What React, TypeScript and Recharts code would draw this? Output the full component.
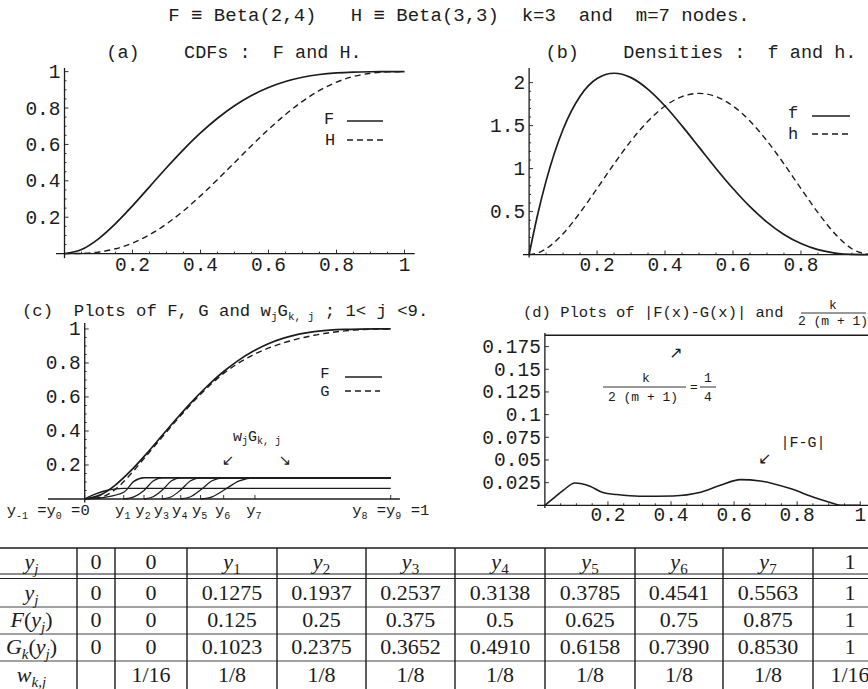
import React from 'react';
import { LineChart, Line, XAxis, YAxis, ReferenceLine } from 'recharts';

const MONO = '"Liberation Mono", "DejaVu Sans Mono", monospace';
const SERIF = '"Liberation Serif", "DejaVu Serif", serif';
const ARROW = '"DejaVu Sans", sans-serif';
const INK = '#1c1c1c';

// (a) CDFs F = Beta(2,4) and H = Beta(3,3)
const gridX = [0, 0.05, 0.1, 0.15, 0.2, 0.25, 0.3, 0.35, 0.4, 0.45, 0.5, 0.55, 0.6, 0.65, 0.7, 0.75, 0.8, 0.85, 0.9, 0.95, 1];
const cdfF = [0, 0.0226, 0.0815, 0.1648, 0.2627, 0.3672, 0.4718, 0.5716, 0.663, 0.7438, 0.8125, 0.8688, 0.913, 0.946, 0.9692, 0.9844, 0.9933, 0.9978, 0.9995, 1, 1];
const cdfH = [0, 0.0012, 0.0086, 0.0266, 0.0579, 0.1035, 0.1631, 0.2352, 0.3174, 0.4069, 0.5, 0.5931, 0.6826, 0.7648, 0.8369, 0.8965, 0.9421, 0.9734, 0.9914, 0.9988, 1];

// (b) densities f and h
const densX = [0, 0.025, 0.05, 0.1, 0.15, 0.2, 0.25, 0.3, 0.35, 0.4, 0.45, 0.5, 0.55, 0.6, 0.65, 0.7, 0.75, 0.8, 0.85, 0.9, 0.95, 1];
const densF = [0, 0.463, 0.857, 1.458, 1.842, 2.048, 2.109, 2.058, 1.922, 1.728, 1.497, 1.25, 1.002, 0.768, 0.557, 0.378, 0.234, 0.128, 0.057, 0.018, 0.002, 0];
const densH = [0, 0.018, 0.068, 0.243, 0.488, 0.768, 1.055, 1.323, 1.553, 1.728, 1.838, 1.875, 1.838, 1.728, 1.553, 1.323, 1.055, 0.768, 0.488, 0.243, 0.068, 0];

// (c) F, G and the weighted pieces w_j G_k,j
const approxGX = [0, 0.05, 0.1, 0.1275, 0.1937, 0.2537, 0.3138, 0.3785, 0.4541, 0.5563, 0.65, 0.75, 0.85, 0.95, 1];
const approxG = [0, 0.009, 0.057, 0.1023, 0.2375, 0.3652, 0.491, 0.6158, 0.739, 0.853, 0.918, 0.963, 0.9886, 0.9995, 1];
const wG1 = [[0, 0], [0.032, 0.027], [0.064, 0.047], [0.096, 0.0586], [0.1275, 0.0625], [1, 0.0625]];
const wG2 = [[0, 0], [0.064, 0.0099], [0.1275, 0.0398], [0.1606, 0.1037], [0.1937, 0.125], [1, 0.125]];
const wG3 = [[0.1275, 0], [0.1606, 0.0125], [0.1937, 0.05], [0.2237, 0.1063], [0.2537, 0.125], [1, 0.125]];
const wG4 = [[0.1937, 0], [0.2237, 0.0131], [0.2537, 0.0525], [0.2838, 0.1069], [0.3138, 0.125], [1, 0.125]];
const wG5 = [[0.2537, 0], [0.2838, 0.0134], [0.3138, 0.0535], [0.3462, 0.1071], [0.3785, 0.125], [1, 0.125]];
const wG6 = [[0.3138, 0], [0.3462, 0.0133], [0.3785, 0.0533], [0.4163, 0.1071], [0.4541, 0.125], [1, 0.125]];
const wG7 = [[0.3785, 0], [0.4163, 0.0128], [0.4541, 0.0513], [0.5052, 0.1066], [0.5563, 0.125], [1, 0.125]];
const nodeTicks = [0, 0.1275, 0.1937, 0.2537, 0.3138, 0.3785, 0.4541, 0.5563, 1];

// (d) |F - G| and the bound k / (2(m+1))
const diffX = [0, 0.03, 0.06, 0.095, 0.143, 0.184, 0.228, 0.3, 0.406, 0.49, 0.556, 0.62, 0.683, 0.778, 0.85, 0.905, 0.937, 1];
const diffFG = [0, 0.0085, 0.017, 0.0246, 0.021, 0.014, 0.0118, 0.0099, 0.0103, 0.014, 0.022, 0.0283, 0.0268, 0.0184, 0.0092, 0.003, 0, 0];
const boundX = [0, 1.06];
const boundY = [0.1875, 0.1875];

// ticks
const unitMajor = [0.2, 0.4, 0.6, 0.8, 1];
const unitMinor = [0.05, 0.1, 0.15, 0.25, 0.3, 0.35, 0.45, 0.5, 0.55, 0.65, 0.7, 0.75, 0.85, 0.9, 0.95];
const densYMajor = [0.5, 1, 1.5, 2];
const densYMinor = [0.1, 0.2, 0.3, 0.4, 0.6, 0.7, 0.8, 0.9, 1.1, 1.2, 1.3, 1.4, 1.6, 1.7, 1.8, 1.9];
const diffYMajor = [0.025, 0.05, 0.075, 0.1, 0.125, 0.15, 0.175];

// table
const headCells = ['0', '0', '1', '2', '3', '4', '5', '6', '7', '1'];
const yRow = ['0', '0', '0.1275', '0.1937', '0.2537', '0.3138', '0.3785', '0.4541', '0.5563', '1'];
const fRow = ['0', '0', '0.125', '0.25', '0.375', '0.5', '0.625', '0.75', '0.875', '1'];
const gRow = ['0', '0', '0.1023', '0.2375', '0.3652', '0.4910', '0.6158', '0.7390', '0.8530', '1'];
const wRow = ['', '1/16', '1/8', '1/8', '1/8', '1/8', '1/8', '1/8', '1/8', '1/16'];

const pts = (xs: number[], ys: number[]) => xs.map((x, i) => ({ x, y: ys[i] }));
const pairs = (p: number[][]) => p.map(([x, y]) => ({ x, y }));

const PAD = { l: 80, r: 45, t: 12, b: 40 };

type PanelProps = {
  box: { left: number; top: number; right: number; bottom: number };
  xDomain: [number, number];
  yDomain: [number, number];
  xTicks: number[];
  xMajor: number[];
  yTicks: number[];
  yMajor: number[];
  xGap: number;
  xLabel?: (v: number, x: number, y: number) => React.ReactNode;
  children: React.ReactNode;
};

function Panel({ box, xDomain, yDomain, xTicks, xMajor, yTicks, yMajor, xGap, xLabel, children }: PanelProps) {
  const pw = box.right - box.left;
  const ph = box.bottom - box.top;
  // pixel position of the x=0 and y=0 axes inside the chart svg
  const x0 = PAD.l + ((0 - xDomain[0]) / (xDomain[1] - xDomain[0])) * pw;
  const y0 = PAD.t + (yDomain[1] / (yDomain[1] - yDomain[0])) * ph;

  const xTick = (p: any) => {
    const v = p.payload.value;
    const major = xMajor.includes(v);
    return (
      <g>
        <line x1={p.x} x2={p.x} y1={y0} y2={y0 - (major ? 4 : 2)} stroke={INK} strokeWidth={0.9} />
        {major &&
          (xLabel ? xLabel(v, p.x, y0 + xGap) : (
            <text x={p.x} y={y0 + xGap} textAnchor="middle" fontFamily={MONO} fontSize={19.5} fill={INK}>
              {String(v)}
            </text>
          ))}
      </g>
    );
  };
  const yTick = (p: any) => {
    const v = p.payload.value;
    const major = yMajor.includes(v);
    return (
      <g>
        <line x1={x0} x2={x0 + (major ? 4 : 2)} y1={p.y} y2={p.y} stroke={INK} strokeWidth={0.9} />
        {major && (
          <text x={x0 - 4} y={p.y + 6.5} textAnchor="end" fontFamily={MONO} fontSize={19.5} fill={INK}>
            {String(v)}
          </text>
        )}
      </g>
    );
  };

  return (
    <div style={{ position: 'absolute', left: box.left - PAD.l, top: box.top - PAD.t }}>
      <LineChart
        width={pw + PAD.l + PAD.r}
        height={ph + PAD.t + PAD.b}
        margin={{ top: PAD.t, right: PAD.r, bottom: 0, left: 0 }}
      >
        <XAxis type="number" dataKey="x" domain={xDomain} ticks={xTicks} interval={0} height={PAD.b}
          axisLine={false} tickLine={false} tick={xTick} allowDataOverflow />
        <YAxis type="number" dataKey="y" domain={yDomain} ticks={yTicks} interval={0} width={PAD.l}
          axisLine={false} tickLine={false} tick={yTick} allowDataOverflow />
        <ReferenceLine x={0} stroke={INK} strokeWidth={1.3} />
        <ReferenceLine y={0} stroke={INK} strokeWidth={1.3} />
        {children}
      </LineChart>
    </div>
  );
}

const solid = { type: 'monotone' as const, dataKey: 'y', dot: false, activeDot: false, isAnimationActive: false, stroke: INK };

const Sub = ({ t, size, d = 4 }: { t: string; size: number; d?: number }) => (
  <tspan dy={d} fontSize={size}>{t}</tspan>
);

function nodeLabel(v: number, x: number, y: number) {
  const fs = 15.5;
  const ss = 10;
  if (v === 0) {
    return (
      <text x={x + 5} y={y} textAnchor="end" fontFamily={MONO} fontSize={fs} fill={INK} xmlSpace="preserve" style={{ whiteSpace: 'pre' }}>
        y<Sub t="-1" size={ss} /><tspan dy={-4}> =y</tspan><Sub t="0" size={ss} /><tspan dy={-4}> =0</tspan>
      </text>
    );
  }
  if (v === 1) {
    return (
      <text x={x} y={y} textAnchor="middle" fontFamily={MONO} fontSize={fs} fill={INK} xmlSpace="preserve" style={{ whiteSpace: 'pre' }}>
        y<Sub t="8" size={ss} /><tspan dy={-4}> =y</tspan><Sub t="9" size={ss} /><tspan dy={-4}> =1</tspan>
      </text>
    );
  }
  const j = nodeTicks.indexOf(v);
  return (
    <text x={x - 1} y={y} textAnchor="middle" fontFamily={MONO} fontSize={fs} fill={INK}>
      y<Sub t={String(j)} size={ss} />
    </text>
  );
}

function Overlay() {
  const mono = { fontFamily: MONO, fill: INK } as const;
  const pre = { whiteSpace: 'pre' } as React.CSSProperties;
  const edges = [-14, 77, 115, 187, 277, 366, 455, 545, 635, 723, 813, 887];
  const centers = edges.slice(0, -1).map((e, i) => (e + edges[i + 1]) / 2);
  const tfs = 22;
  const sfs = 15;
  const rowBase = [600, 627, 654, 682];
  const rows = [yRow, fRow, gRow, wRow];
  const rowLabels = [
    <>y<tspan dy={5} fontSize={sfs}>j</tspan></>,
    <>F<tspan fontStyle="normal">(</tspan>y<tspan dy={5} fontSize={sfs}>j</tspan><tspan dy={-5} fontStyle="normal">)</tspan></>,
    <>G<tspan dy={5} fontSize={sfs}>k</tspan><tspan dy={-5} fontStyle="normal">(</tspan>y<tspan dy={5} fontSize={sfs}>j</tspan><tspan dy={-5} fontStyle="normal">)</tspan></>,
    <>w<tspan dy={5} fontSize={sfs}>k,j</tspan></>,
  ];
  return (
    <svg width={868} height={689} style={{ position: 'absolute', left: 0, top: 0, pointerEvents: 'none' }}>
      <text x={459} y={21} textAnchor="middle" fontSize={19} {...mono} xmlSpace="preserve" style={pre}>
        {'F ≡ Beta(2,4)   H ≡ Beta(3,3)  k=3  and  m=7 nodes.'}
      </text>
      <text x={234} y={58} textAnchor="middle" fontSize={18.5} {...mono} xmlSpace="preserve" style={pre}>
        {'(a)    CDFs :  F and H.'}
      </text>
      <text x={701} y={58} textAnchor="middle" fontSize={18.5} {...mono} xmlSpace="preserve" style={pre}>
        {'(b)    Densities :  f and h.'}
      </text>

      {/* legends (a) and (b) */}
      <text x={329} y={124} textAnchor="middle" fontSize={17} {...mono}>F</text>
      <line x1={347} x2={383} y1={121} y2={121} stroke={INK} strokeWidth={1.5} />
      <text x={330} y={145} textAnchor="middle" fontSize={17} {...mono}>H</text>
      <line x1={347} x2={383} y1={140} y2={140} stroke={INK} strokeWidth={1.3} strokeDasharray="6 4" />
      <text x={793} y={118} textAnchor="middle" fontSize={17} {...mono}>f</text>
      <line x1={812} x2={850} y1={116} y2={116} stroke={INK} strokeWidth={1.5} />
      <text x={793} y={139} textAnchor="middle" fontSize={17} {...mono}>h</text>
      <line x1={812} x2={850} y1={134} y2={134} stroke={INK} strokeWidth={1.3} strokeDasharray="6 4" />

      {/* (c) */}
      <text x={22} y={316} fontSize={17.3} {...mono} xmlSpace="preserve" style={pre}>
        {'(c)  Plots of F, G and w'}<tspan dy={4} fontSize={11}>j</tspan>
        <tspan dy={-4}>G</tspan><tspan dy={4} fontSize={11}>k, j</tspan>
        <tspan dy={-4}>{' ; 1< j <9.'}</tspan>
      </text>
      <text x={325} y={378} textAnchor="middle" fontSize={15.5} {...mono}>F</text>
      <line x1={345} x2={382} y1={377} y2={377} stroke={INK} strokeWidth={1.5} />
      <text x={325} y={396} textAnchor="middle" fontSize={15.5} {...mono}>G</text>
      <line x1={345} x2={380} y1={391} y2={391} stroke={INK} strokeWidth={1.3} strokeDasharray="6 4" />
      <text x={257} y={441} textAnchor="middle" fontSize={15} {...mono}>
        w<tspan dy={3} fontSize={10}>j</tspan><tspan dy={-3}>G</tspan><tspan dy={3} fontSize={10}>k, j</tspan>
      </text>
      <text x={228} y={465} textAnchor="middle" fontSize={15} fontFamily={ARROW} fill={INK}>↙</text>
      <text x={285} y={465} textAnchor="middle" fontSize={15} fontFamily={ARROW} fill={INK}>↘</text>

      {/* (d) */}
      <text x={523} y={317} fontSize={15.5} {...mono} xmlSpace="preserve" style={pre}>
        {'(d) Plots of |F(x)-G(x)| and'}
      </text>
      <text x={833} y={309} textAnchor="middle" fontSize={13} {...mono}>k</text>
      <line x1={801} x2={866} y1={313} y2={313} stroke={INK} strokeWidth={0.9} />
      <text x={833} y={325} textAnchor="middle" fontSize={13} {...mono} xmlSpace="preserve" style={pre}>{'2 (m + 1)'}</text>

      <text x={676} y={358} textAnchor="middle" fontSize={16} fontFamily={ARROW} fill={INK}>↗</text>
      <text x={646} y={382} textAnchor="middle" fontSize={13} {...mono}>k</text>
      <line x1={603} x2={686} y1={387} y2={387} stroke={INK} strokeWidth={0.9} />
      <text x={643} y={401} textAnchor="middle" fontSize={13} {...mono} xmlSpace="preserve" style={pre}>{'2 (m + 1)'}</text>
      <text x={694} y={391} textAnchor="middle" fontSize={13} {...mono}>=</text>
      <text x={708} y={382} textAnchor="middle" fontSize={13} {...mono}>1</text>
      <line x1={700} x2={716} y1={387} y2={387} stroke={INK} strokeWidth={0.9} />
      <text x={708} y={401} textAnchor="middle" fontSize={13} {...mono}>4</text>
      <text x={803} y={447} textAnchor="middle" fontSize={15} {...mono}>|F-G|</text>
      <text x={765} y={464} textAnchor="middle" fontSize={16} fontFamily={ARROW} fill={INK}>↙</text>

      {/* table */}
      <line x1={0} x2={868} y1={548} y2={548} stroke={INK} strokeWidth={1.6} />
      <line x1={0} x2={868} y1={574} y2={574} stroke={INK} strokeWidth={1.2} />
      <line x1={0} x2={868} y1={578.5} y2={578.5} stroke={INK} strokeWidth={1.2} />
      {[607, 634, 661].map((y) => (
        <line key={y} x1={0} x2={868} y1={y} y2={y} stroke="#444" strokeWidth={1} />
      ))}
      {edges.slice(1, -1).map((x) => (
        <line key={x} x1={x} x2={x} y1={548} y2={689} stroke={INK} strokeWidth={1.4} />
      ))}
      <text x={centers[0]} y={569} textAnchor="middle" fontFamily={SERIF} fontSize={tfs} fontStyle="italic" fill={INK}>
        y<tspan dy={5} fontSize={sfs}>j</tspan>
      </text>
      {headCells.map((h, i) => {
        const c = centers[i + 1];
        if (i < 2 || i === 9) {
          return <text key={i} x={c} y={569} textAnchor="middle" fontFamily={SERIF} fontSize={tfs} fill={INK}>{h}</text>;
        }
        return (
          <text key={i} x={c} y={569} textAnchor="middle" fontFamily={SERIF} fontSize={tfs} fill={INK}>
            <tspan fontStyle="italic">y</tspan><tspan dy={5} fontSize={sfs}>{h}</tspan>
          </text>
        );
      })}
      {rows.map((r, ri) => (
        <g key={ri}>
          <text x={centers[0]} y={rowBase[ri]} textAnchor="middle" fontFamily={SERIF} fontSize={tfs} fontStyle="italic" fill={INK}>
            {rowLabels[ri]}
          </text>
          {r.map((v, i) => (
            <text key={i} x={centers[i + 1]} y={rowBase[ri]} textAnchor="middle" fontFamily={SERIF} fontSize={tfs} fill={INK}>
              {v}
            </text>
          ))}
        </g>
      ))}
    </svg>
  );
}

export default function App() {
  return (
    <div style={{ position: 'absolute', left: 0, top: 0, width: 868, height: 689, overflow: 'hidden', background: '#fff' }}>
      <Panel
        box={{ left: 55.5, top: 68.4, right: 414.2, bottom: 258.6 }}
        xDomain={[-0.025, 1.03]}
        yDomain={[-0.025, 1.02]}
        xTicks={[...unitMinor, ...unitMajor]}
        xMajor={unitMajor}
        yTicks={[...unitMinor, ...unitMajor]}
        yMajor={unitMajor}
        xGap={17}
      >
        <Line {...solid} data={pts(gridX, cdfF)} strokeWidth={1.7} />
        <Line {...solid} data={pts(gridX, cdfH)} strokeWidth={1.4} strokeDasharray="6 4" />
      </Panel>

      <Panel
        box={{ left: 522.9, top: 68.4, right: 879, bottom: 258 }}
        xDomain={[-0.018, 1.03]}
        yDomain={[-0.035, 2.17]}
        xTicks={[...unitMinor, 0.2, 0.4, 0.6, 0.8]}
        xMajor={[0.2, 0.4, 0.6, 0.8]}
        yTicks={[...densYMinor, ...densYMajor]}
        yMajor={densYMajor}
        xGap={16}
      >
        <Line {...solid} data={pts(densX, densF)} strokeWidth={1.7} />
        <Line {...solid} data={pts(densX, densH)} strokeWidth={1.4} strokeDasharray="6 4" />
      </Panel>

      <Panel
        box={{ left: 48.3, top: 323, right: 400.2, bottom: 502.4 }}
        xDomain={[-0.12, 1.03]}
        yDomain={[-0.02, 1.035]}
        xTicks={nodeTicks}
        xMajor={nodeTicks}
        yTicks={[...unitMinor, ...unitMajor]}
        yMajor={unitMajor}
        xGap={16}
        xLabel={nodeLabel}
      >
        {[wG1, wG2, wG3, wG4, wG5, wG6, wG7].map((c, i) => (
          <Line key={i} {...solid} data={pairs(c)} strokeWidth={1.3} />
        ))}
        <Line {...solid} data={pts(gridX, cdfF)} strokeWidth={1.7} />
        <Line {...solid} data={pts(approxGX, approxG)} strokeWidth={1.4} strokeDasharray="6 4" />
      </Panel>

      <Panel
        box={{ left: 537, top: 332.7, right: 876, bottom: 507.7 }}
        xDomain={[-0.025, 1.05]}
        yDomain={[-0.003, 0.19]}
        xTicks={[...unitMinor, ...unitMajor]}
        xMajor={unitMajor}
        yTicks={diffYMajor}
        yMajor={diffYMajor}
        xGap={16}
      >
        <Line {...solid} data={pts(boundX, boundY)} strokeWidth={1.5} />
        <Line {...solid} data={pts(diffX, diffFG)} strokeWidth={1.6} />
      </Panel>

      <Overlay />
    </div>
  );
}
